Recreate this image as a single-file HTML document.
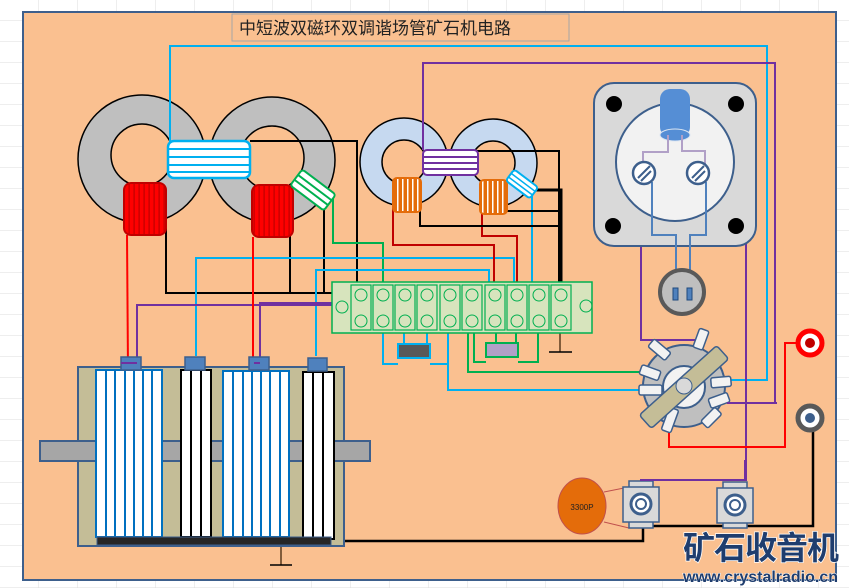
<!DOCTYPE html>
<html><head><meta charset="utf-8"><style>
html,body{margin:0;padding:0;background:#fff;}
svg{display:block;}
</style></head><body>
<svg width="849" height="588" viewBox="0 0 849 588" xmlns="http://www.w3.org/2000/svg">
<defs>
<pattern id="redp" width="5" height="10" patternUnits="userSpaceOnUse"><rect width="5" height="10" fill="#ff0000"/><rect x="3.5" width="1.2" height="10" fill="#c00000"/></pattern>
<pattern id="orgp" width="5" height="10" patternUnits="userSpaceOnUse"><rect width="5" height="10" fill="#e46c0a"/><rect x="2" width="1.5" height="10" fill="#fff"/></pattern>
<pattern id="grid" width="39" height="21" patternUnits="userSpaceOnUse"><rect width="39" height="21" fill="#fff"/><path d="M39 0V21M0 21H39" stroke="#dcdcdc" stroke-width="1"/></pattern>
</defs>
<rect width="849" height="588" fill="url(#grid)"/>
<rect x="23" y="12" width="813" height="568" fill="#fac090" stroke="#3d5f8c" stroke-width="2"/>
<rect x="232" y="14" width="337" height="27" fill="#fac090" stroke="#a6a6a6" stroke-width="1"/>
<text x="239" y="34" font-family="Liberation Sans, Noto Sans CJK SC, sans-serif" font-size="17" fill="#222">中短波双磁环双调谐场管矿石机电路</text>

<!-- toroids -->
<circle cx="142" cy="159" r="64" fill="#bfbfbf" stroke="#000" stroke-width="1.5"/>
<circle cx="142" cy="155" r="31" fill="#fac090" stroke="#000" stroke-width="1.5"/>
<circle cx="272" cy="160" r="63" fill="#bfbfbf" stroke="#000" stroke-width="1.5"/>
<circle cx="272" cy="158" r="32" fill="#fac090" stroke="#000" stroke-width="1.5"/>
<circle cx="404" cy="162" r="44" fill="#c6d9f0" stroke="#000" stroke-width="1.5"/>
<circle cx="404" cy="162" r="22" fill="#fac090" stroke="#000" stroke-width="1.5"/>
<circle cx="493" cy="163" r="44" fill="#c6d9f0" stroke="#000" stroke-width="1.5"/>
<circle cx="493" cy="163" r="22" fill="#fac090" stroke="#000" stroke-width="1.5"/>

<!-- wires -->
<g fill="none" stroke-width="2">
<polyline points="170,142 170,46 767,46 767,380 726,380" stroke="#00b0f0"/>
<polyline points="250,141 357,141 357,293" stroke="#000"/>
<polyline points="166,224 166,293 360,293" stroke="#000"/>
<polyline points="290,226 290,293" stroke="#000"/>
<polyline points="324,208 324,293" stroke="#000"/>
<polyline points="333,198 333,243 383,243 383,292" stroke="#00b050"/>
<polyline points="196,356 196,258 514,258 514,292" stroke="#00b0f0"/>
<polyline points="316,356 316,270 489,270 489,292" stroke="#00b0f0"/>
<polyline points="393,196 393,245 494,245 494,292" stroke="#c00000"/>
<polyline points="482,207 482,236 517,236 517,292" stroke="#c00000"/>
<polyline points="532,196 532,292" stroke="#00b0f0"/>
<polyline points="475,151 559,151 559,295" stroke="#000"/>
<polyline points="535,190 561,190 561,295" stroke="#000" stroke-width="3"/>
<polyline points="505,211 559,211" stroke="#000"/>
<polyline points="420,203 420,226 559,226" stroke="#000"/>
<polyline points="423,150 423,63 775,63 775,403 727,403" stroke="#7030a0"/>
<polyline points="137,363 137,305 426,305 426,290" stroke="#7030a0"/>
<polyline points="260,362 260,303 404,303 404,291" stroke="#7030a0"/>
<line x1="127" y1="235" x2="128" y2="370" stroke="#ff0000"/>
<line x1="253" y1="237" x2="253" y2="370" stroke="#ff0000"/>
<polyline points="709,174 746,174 746,480 640,480" stroke="#7030a0"/>
<polyline points="641,180 641,340 700,340" stroke="#7030a0"/>
<polyline points="383,325 383,364 398,364" stroke="#00b0f0"/>
<polyline points="404,325 404,343" stroke="#00b0f0"/>
<polyline points="427,325 427,343" stroke="#00b0f0"/>
<polyline points="430,364 447,364" stroke="#00b0f0"/>
<polyline points="448,320 448,390 642,390" stroke="#00b0f0"/>
<polyline points="468,322 468,372 640,372" stroke="#00b050"/>
<polyline points="474,322 474,362 486,362" stroke="#00b050"/>
<polyline points="496,325 496,343" stroke="#00b050"/>
<polyline points="516,325 516,343" stroke="#00b050"/>
<polyline points="518,362 538,362 538,325" stroke="#00b050"/>
<polyline points="810,343 785,343 785,447 669,447 669,428" stroke="#ff0000"/>
<polyline points="813,430 813,526 643,526 643,541 332,541" stroke="#000" stroke-width="2.5"/>
<line x1="281" y1="541" x2="281" y2="565" stroke="#5a3b1e" stroke-width="1.5"/>
<line x1="270" y1="565" x2="292" y2="565" stroke="#000" stroke-width="1.5"/>
<line x1="560" y1="320" x2="560" y2="352" stroke="#5a3b1e" stroke-width="1.5"/>
<line x1="549" y1="352" x2="572" y2="352" stroke="#000" stroke-width="1.5"/>
<line x1="604" y1="492" x2="629" y2="487" stroke="#c0504d" stroke-width="1"/>
<line x1="604" y1="522" x2="629" y2="528" stroke="#c0504d" stroke-width="1"/>
</g>

<!-- coils -->
<rect x="168" y="141" width="82" height="37" rx="6" fill="#fff" stroke="#00b0f0" stroke-width="2.5"/>
<g stroke="#00b0f0" stroke-width="2"><line x1="168" y1="149" x2="250" y2="149"/><line x1="168" y1="157" x2="250" y2="157"/><line x1="168" y1="165" x2="250" y2="165"/><line x1="168" y1="172" x2="250" y2="172"/></g>
<rect x="124" y="183" width="42" height="52" rx="7" fill="url(#redp)" stroke="#c00000" stroke-width="2"/>
<rect x="252" y="185" width="41" height="52" rx="7" fill="url(#redp)" stroke="#c00000" stroke-width="2"/>
<g transform="translate(313,190) rotate(37)">
<rect x="-21" y="-10" width="42" height="20" rx="3" fill="#fff" stroke="#00b050" stroke-width="2"/>
<line x1="-21" y1="-3" x2="21" y2="-3" stroke="#00b050" stroke-width="2"/><line x1="-21" y1="3" x2="21" y2="3" stroke="#00b050" stroke-width="2"/></g>
<rect x="423" y="150" width="55" height="25" rx="4" fill="#fff" stroke="#7030a0" stroke-width="2"/>
<g stroke="#7030a0" stroke-width="2"><line x1="423" y1="157" x2="478" y2="157"/><line x1="423" y1="163" x2="478" y2="163"/><line x1="423" y1="169" x2="478" y2="169"/></g>
<rect x="393" y="178" width="28" height="34" rx="4" fill="url(#orgp)" stroke="#e46c0a" stroke-width="2"/>
<rect x="480" y="180" width="27" height="34" rx="4" fill="url(#orgp)" stroke="#e46c0a" stroke-width="2"/>
<g transform="translate(522,184) rotate(37)">
<rect x="-15" y="-7" width="30" height="14" rx="3" fill="#fff" stroke="#00b0f0" stroke-width="2"/>
<line x1="-15" y1="-2" x2="15" y2="-2" stroke="#00b0f0" stroke-width="1.5"/><line x1="-15" y1="2.5" x2="15" y2="2.5" stroke="#00b0f0" stroke-width="1.5"/></g>

<!-- terminal strip -->
<rect x="332" y="282" width="260" height="51" fill="#d7e4bd" stroke="#00b050" stroke-width="1.5"/>
<circle cx="342" cy="307" r="6" fill="none" stroke="#00b050"/>
<circle cx="586" cy="306" r="6" fill="none" stroke="#00b050"/>
<g fill="none" stroke="#00b050" stroke-width="1.2">
<rect x="351" y="285" width="20" height="45"/><rect x="373" y="285" width="20" height="45"/><rect x="395" y="285" width="20" height="45"/><rect x="417" y="285" width="20" height="45"/>
<rect x="440" y="285" width="20" height="45"/><rect x="462" y="285" width="20" height="45"/><rect x="485" y="285" width="20" height="45"/><rect x="507" y="285" width="20" height="45"/><rect x="529" y="285" width="20" height="45"/><rect x="551" y="285" width="20" height="45"/>
</g>
<g fill="#d7e4bd" stroke="#00b050" stroke-width="1">
<circle cx="361" cy="295" r="6"/><circle cx="383" cy="295" r="6"/><circle cx="405" cy="295" r="6"/><circle cx="427" cy="295" r="6"/><circle cx="450" cy="295" r="6"/><circle cx="472" cy="295" r="6"/><circle cx="495" cy="295" r="6"/><circle cx="517" cy="295" r="6"/><circle cx="539" cy="295" r="6"/><circle cx="561" cy="295" r="6"/>
<circle cx="361" cy="321" r="6"/><circle cx="383" cy="321" r="6"/><circle cx="405" cy="321" r="6"/><circle cx="427" cy="321" r="6"/><circle cx="450" cy="321" r="6"/><circle cx="472" cy="321" r="6"/><circle cx="495" cy="321" r="6"/><circle cx="517" cy="321" r="6"/><circle cx="539" cy="321" r="6"/><circle cx="561" cy="321" r="6"/>
</g>
<rect x="398" y="344" width="32" height="14" fill="#595959" stroke="#00b0f0" stroke-width="2"/>
<rect x="486" y="343" width="32" height="14" fill="#b1a0c7" stroke="#00b050" stroke-width="2"/>

<!-- variable capacitor -->
<rect x="78" y="367" width="266" height="179" fill="#c4bd97" stroke="#3d5f8c" stroke-width="2"/>
<rect x="40" y="441" width="330" height="20" fill="#a6a6a6" stroke="#3d5f8c" stroke-width="2"/>
<rect x="96" y="370" width="66" height="167" fill="#fff" stroke="#0070c0" stroke-width="2"/>
<g stroke="#0070c0" stroke-width="2"><line x1="106" y1="370" x2="106" y2="537"/><line x1="115" y1="370" x2="115" y2="537"/><line x1="125" y1="370" x2="125" y2="537"/><line x1="134" y1="370" x2="134" y2="537"/><line x1="143" y1="370" x2="143" y2="537"/><line x1="152" y1="370" x2="152" y2="537"/></g>
<rect x="223" y="371" width="66" height="166" fill="#fff" stroke="#0070c0" stroke-width="2"/>
<g stroke="#0070c0" stroke-width="2"><line x1="233" y1="371" x2="233" y2="537"/><line x1="243" y1="371" x2="243" y2="537"/><line x1="252" y1="371" x2="252" y2="537"/><line x1="261" y1="371" x2="261" y2="537"/><line x1="270" y1="371" x2="270" y2="537"/><line x1="280" y1="371" x2="280" y2="537"/></g>
<rect x="181" y="370" width="30" height="167" fill="#fff" stroke="#000" stroke-width="2"/>
<line x1="191" y1="370" x2="191" y2="537" stroke="#000" stroke-width="2"/><line x1="201" y1="370" x2="201" y2="537" stroke="#000" stroke-width="2"/>
<rect x="303" y="372" width="31" height="167" fill="#fff" stroke="#000" stroke-width="2"/>
<line x1="313" y1="372" x2="313" y2="539" stroke="#000" stroke-width="2"/><line x1="323" y1="372" x2="323" y2="539" stroke="#000" stroke-width="2"/>
<rect x="97" y="537" width="234" height="8" fill="#262626" stroke="#3d5f8c"/>
<g fill="#4f81bd" stroke="#3d5f8c" stroke-width="1.5"><rect x="121" y="357" width="20" height="13"/><rect x="185" y="357" width="20" height="13"/><rect x="249" y="357" width="20" height="13"/><rect x="308" y="358" width="19" height="13"/></g>
<polyline points="121,363 137,363" stroke="#7030a0" stroke-width="2" fill="none"/>
<polyline points="254,363 260,363" stroke="#7030a0" stroke-width="2" fill="none"/>

<!-- pot -->
<rect x="594" y="83" width="162" height="163" rx="20" fill="#d9d9d9" stroke="#3d5f8c" stroke-width="2"/>
<circle cx="675" cy="162" r="59" fill="#f2f2f2" stroke="#3d5f8c" stroke-width="2"/>
<circle cx="614" cy="104" r="8" fill="#000"/><circle cx="736" cy="104" r="8" fill="#000"/><circle cx="613" cy="226" r="8" fill="#000"/><circle cx="736" cy="226" r="8" fill="#000"/>
<rect x="660" y="89" width="30" height="48" rx="10" fill="#558ed5"/>
<ellipse cx="675" cy="135" rx="15" ry="6" fill="#558ed5" stroke="#dbe5f1"/>
<polyline points="668,135 668,152 643,152 643,165" fill="none" stroke="#b1a0c7" stroke-width="2"/>
<polyline points="682,135 682,151 705,151 705,165" fill="none" stroke="#b1a0c7" stroke-width="2"/>
<polyline points="652,182 652,235 676,235 676,292" fill="none" stroke="#4f81bd" stroke-width="2"/>
<polyline points="706,182 706,235 690,235 690,292" fill="none" stroke="#4f81bd" stroke-width="2"/>
<g fill="#fff" stroke="#3d5f8c" stroke-width="2.5"><circle cx="644" cy="173" r="11"/><circle cx="698" cy="173" r="11"/></g>
<g stroke="#3d5f8c" stroke-width="2"><line x1="638" y1="178" x2="650" y2="166"/><line x1="641" y1="181" x2="651" y2="171"/><line x1="692" y1="178" x2="704" y2="166"/><line x1="695" y1="181" x2="705" y2="171"/></g>
<circle cx="682" cy="292" r="22" fill="#bfbfbf" stroke="#595959" stroke-width="4"/>
<rect x="673" y="288" width="5" height="12" fill="#4f81bd" stroke="#1f497d"/><rect x="687" y="288" width="5" height="12" fill="#4f81bd" stroke="#1f497d"/>

<!-- rotary switch -->
<circle cx="684" cy="386" r="41" fill="#bfbfbf" stroke="#3d5f8c" stroke-width="2"/>
<circle cx="684" cy="387" r="21" fill="#f2f2f2" stroke="#3d5f8c" stroke-width="2"/>
<g fill="#f2f2f2" stroke="#3d5f8c" stroke-width="1.5">
<rect x="-5" y="-13" width="10" height="20" rx="2" transform="translate(700,342) rotate(20)"/>
<rect x="-5" y="-13" width="10" height="22" rx="2" transform="translate(661,351) rotate(-50)"/>
<rect x="-5" y="-11" width="10" height="20" rx="2" transform="translate(651,373) rotate(-70)"/>
<rect x="-5" y="-12" width="10" height="23" rx="2" transform="translate(651,390) rotate(-90)"/>
<rect x="-5" y="-11" width="10" height="20" rx="2" transform="translate(722,382) rotate(-95)"/>
<rect x="-5" y="-11" width="10" height="20" rx="2" transform="translate(720,400) rotate(-110)"/>
<rect x="-5" y="-11" width="10" height="20" rx="2" transform="translate(712,417) rotate(-135)"/>
<rect x="-5" y="-12" width="10" height="24" rx="2" transform="translate(670,420) rotate(20)"/>
</g>
<rect x="-52" y="-9" width="104" height="18" rx="3" fill="#c4bd97" stroke="#3d5f8c" stroke-width="1.5" transform="translate(684,387) rotate(-42)"/>
<circle cx="684" cy="386" r="8" fill="#d9d9d9" stroke="#3d5f8c"/>
<polyline points="727,403 777,403" stroke="#7030a0" stroke-width="2" fill="none"/>

<!-- jacks -->
<circle cx="810" cy="343" r="12" fill="#fff" stroke="#ff0000" stroke-width="5"/>
<circle cx="810" cy="343" r="5" fill="#c00000"/>
<circle cx="810" cy="418" r="12" fill="#fff" stroke="#595959" stroke-width="5"/>
<circle cx="810" cy="418" r="5" fill="#3d5f8c"/>

<!-- 3300P cap -->
<ellipse cx="582" cy="506" rx="24" ry="28" fill="#e46c0a" stroke="#c0504d"/>
<text x="582" y="510" text-anchor="middle" font-family="Liberation Sans, sans-serif" font-size="8" fill="#222">3300P</text>
<g fill="#d9d9d9" stroke="#3d5f8c" stroke-width="1.5">
<rect x="629" y="481" width="24" height="7"/><rect x="629" y="521" width="24" height="7"/><rect x="623" y="487" width="36" height="35"/>
<rect x="723" y="482" width="24" height="7"/><rect x="723" y="521" width="24" height="7"/><rect x="717" y="488" width="36" height="35"/>
</g>
<g fill="#fff" stroke="#3d5f8c" stroke-width="3"><circle cx="641" cy="504" r="10"/><circle cx="735" cy="505" r="10"/></g>
<g fill="none" stroke="#3d5f8c" stroke-width="2"><circle cx="641" cy="504" r="5"/><circle cx="735" cy="505" r="5"/></g>
<polyline points="640,480 745,480 745,460" stroke="#7030a0" stroke-width="2" fill="none"/>

<!-- logo -->
<text x="683" y="559" font-family="Noto Sans CJK SC, WenQuanYi Zen Hei, sans-serif" font-size="32" font-weight="bold" fill="#1f3d6e" stroke="#fff" stroke-width="1.5" paint-order="stroke" letter-spacing="-1">矿石收音机</text>
<text x="683" y="582" font-family="Liberation Sans, sans-serif" font-size="16" font-weight="bold" fill="#1f3d6e" stroke="#fff" stroke-width="1" paint-order="stroke">www.crystalradio.cn</text>
</svg>
</body></html>
